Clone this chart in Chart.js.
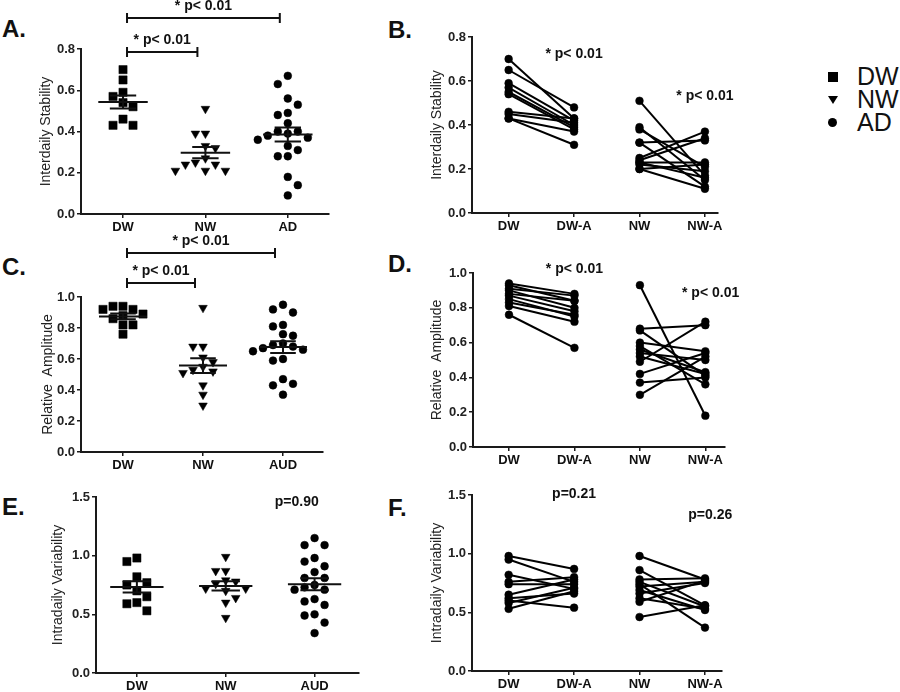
<!DOCTYPE html>
<html>
<head>
<meta charset="utf-8">
<script src="https://cdn.jsdelivr.net/npm/chart.js@4.4.1/dist/chart.umd.min.js"></script>
<style>
  body { margin: 0; background: #fff; }
  #fig { position: relative; width: 900px; height: 692px; overflow: hidden; font-family: "Liberation Sans", Arial, sans-serif; color: #111; }
  #fig canvas { position: absolute; }
  .letter { position: absolute; font-weight: bold; font-size: 24px; line-height: 1; }
  .leg { position: absolute; font-size: 25px; line-height: 1; }
  .sym { position: absolute; background: #000; }
</style>
</head>
<body>
<div id="fig">
  <div class="letter" style="left:2px;top:17px">A.</div>
  <div class="letter" style="left:388px;top:18px">B.</div>
  <div class="letter" style="left:2px;top:255px">C.</div>
  <div class="letter" style="left:388px;top:252px">D.</div>
  <div class="letter" style="left:2px;top:495px">E.</div>
  <div class="letter" style="left:388px;top:496px">F.</div>

  <div class="sym" style="left:828px;top:72px;width:10px;height:10px"></div>
  <div class="sym" style="left:828px;top:96px;width:0;height:0;background:none;border-left:5px solid transparent;border-right:5px solid transparent;border-top:8px solid #000"></div>
  <div class="sym" style="left:828px;top:118px;width:9px;height:9px;border-radius:50%"></div>
  <div class="leg" style="left:857px;top:64px">DW</div>
  <div class="leg" style="left:857px;top:87px">NW</div>
  <div class="leg" style="left:857px;top:110px">AD</div>
</div>

<script>
// categories
const groupCatsA = ['DW', 'NW', 'AD'];
const groupCatsC = ['DW', 'NW', 'AUD'];
const pairCats = ['DW', 'DW-A', 'NW', 'NW-A'];

// tick labels
const ticksIS = [0, 0.2, 0.4, 0.6, 0.8];
const ticksRA = [0, 0.2, 0.4, 0.6, 0.8, 1.0];
const ticksIV = [0, 0.5, 1.0, 1.5];

// A. interdaily stability by group
const isDW = [0.70, 0.65, 0.59, 0.57, 0.54, 0.52, 0.46, 0.43, 0.43];
const isNW = [0.51, 0.39, 0.39, 0.33, 0.32, 0.27, 0.25, 0.24, 0.24, 0.21, 0.21, 0.21];
const isAD = [0.67, 0.63, 0.56, 0.53, 0.49, 0.48, 0.44, 0.40, 0.40, 0.39, 0.38, 0.37, 0.36, 0.33, 0.31, 0.28, 0.28, 0.18, 0.14, 0.09];

// B. interdaily stability, paired
const isPairDW  = [0.70, 0.65, 0.59, 0.57, 0.55, 0.54, 0.46, 0.45, 0.43, 0.43];
const isPairDWA = [0.43, 0.48, 0.42, 0.40, 0.39, 0.38, 0.43, 0.41, 0.37, 0.31];
const isPairNW  = [0.51, 0.39, 0.38, 0.32, 0.32, 0.25, 0.24, 0.23, 0.23, 0.22, 0.20, 0.20];
const isPairNWA = [0.17, 0.15, 0.21, 0.33, 0.12, 0.37, 0.34, 0.23, 0.16, 0.19, 0.22, 0.11];

// C. relative amplitude by group
const raDW  = [0.94, 0.94, 0.92, 0.92, 0.89, 0.88, 0.86, 0.82, 0.82, 0.76];
const raNW  = [0.93, 0.68, 0.68, 0.61, 0.58, 0.55, 0.53, 0.52, 0.51, 0.43, 0.37, 0.30];
const raAUD = [0.95, 0.92, 0.90, 0.82, 0.81, 0.76, 0.75, 0.70, 0.69, 0.68, 0.67, 0.66, 0.65, 0.60, 0.59, 0.47, 0.44, 0.43, 0.37];

// D. relative amplitude, paired
const raPairDW  = [0.94, 0.93, 0.91, 0.90, 0.88, 0.87, 0.85, 0.83, 0.81, 0.76];
const raPairDWA = [0.88, 0.84, 0.87, 0.80, 0.84, 0.78, 0.75, 0.76, 0.72, 0.57];
const raPairNW  = [0.93, 0.68, 0.67, 0.60, 0.58, 0.56, 0.54, 0.52, 0.49, 0.42, 0.37, 0.30];
const raPairNWA = [0.18, 0.70, 0.41, 0.55, 0.36, 0.43, 0.50, 0.42, 0.72, 0.54, 0.40, 0.52];

// E. intradaily variability by group
const ivDW  = [0.98, 0.95, 0.82, 0.77, 0.75, 0.70, 0.65, 0.60, 0.59, 0.53];
const ivNW  = [0.99, 0.87, 0.87, 0.79, 0.78, 0.76, 0.72, 0.72, 0.70, 0.64, 0.60, 0.47];
const ivAUD = [1.15, 1.09, 1.09, 0.98, 0.95, 0.91, 0.86, 0.81, 0.81, 0.75, 0.73, 0.71, 0.71, 0.63, 0.61, 0.58, 0.50, 0.49, 0.43, 0.34];

// F. intradaily variability, paired
const ivPairDW  = [0.98, 0.95, 0.82, 0.76, 0.74, 0.65, 0.62, 0.60, 0.58, 0.53];
const ivPairDWA = [0.87, 0.76, 0.70, 0.80, 0.74, 0.78, 0.66, 0.54, 0.71, 0.68];
const ivPairNW  = [0.98, 0.86, 0.78, 0.76, 0.74, 0.72, 0.69, 0.66, 0.62, 0.59, 0.46];
const ivPairNWA = [0.78, 0.56, 0.79, 0.55, 0.37, 0.76, 0.52, 0.75, 0.53, 0.77, 0.56];

Chart.defaults.font.family = '"Liberation Sans", Arial, sans-serif';
Chart.defaults.color = '#111';

const fig = document.getElementById('fig');
const axisColor = '#1a1a1a';
const shapes = [
    { pointStyle: 'rect', radius: 5.8, rotation: 0 },
    { pointStyle: 'triangle', radius: 5, rotation: 180 },
    { pointStyle: 'circle', radius: 3.9, rotation: 0 }
];

function mean(a) { return a.reduce((s, v) => s + v, 0) / a.length; }
function sem(a) {
    const m = mean(a);
    const sd = Math.sqrt(a.reduce((s, v) => s + (v - m) * (v - m), 0) / (a.length - 1));
    return sd / Math.sqrt(a.length);
}

// simple beeswarm: column offsets so markers don't overlap
function swarm(values, thr) {
    const placed = [];
    const off = new Array(values.length);
    const order = values.map((v, i) => i).sort((a, b) => values[b] - values[a]);
    order.forEach(i => {
        const v = values[i];
        const free = k => !placed.some(p => p.k === k && Math.abs(p.v - v) < thr);
        for (let s = 0; s < 10; s++) {
            let k = null;
            if (s === 0) { if (free(0)) k = 0; }
            else {
                const nl = placed.filter(p => p.k === -s).length;
                const nr = placed.filter(p => p.k === s).length;
                const first = nr < nl ? s : -s;
                if (free(first)) k = first; else if (free(-first)) k = -first;
            }
            if (k !== null) { off[i] = k; placed.push({ k, v }); break; }
        }
    });
    return off;
}

function makeCanvas(p) {
    const c = document.createElement('canvas');
    const w = (p.r - p.l) + p.yW + p.padRight;
    const h = (p.b - p.t) + p.padTop + p.xH;
    c.width = w; c.height = h;
    c.style.left = (p.l - p.yW) + 'px';
    c.style.top = (p.t - p.padTop) + 'px';
    c.style.width = w + 'px'; c.style.height = h + 'px';
    fig.appendChild(c);
    return c;
}

function scalesFor(p, cats, yTicks, title) {
    const grid = { display: true, drawOnChartArea: false, drawTicks: true, tickLength: 4, color: axisColor, lineWidth: 1.5 };
    const border = { display: true, color: axisColor, width: 2 };
    return {
        x: {
            type: 'linear', min: p.xMin, max: p.xMax,
            afterBuildTicks: s => { s.ticks = cats.map((c, i) => ({ value: i })); },
            afterFit: s => { s.height = p.xH; },
            grid: grid, border: border,
            ticks: { callback: v => cats[v], font: { size: 13, weight: 'bold' }, color: '#111', padding: 2, maxRotation: 0, autoSkip: false }
        },
        y: {
            min: yTicks[0], max: yTicks[yTicks.length - 1],
            afterBuildTicks: s => { s.ticks = yTicks.map(v => ({ value: v })); },
            afterFit: s => { s.width = p.yW; },
            grid: grid, border: border,
            ticks: { callback: v => v.toFixed(1), font: { size: 13, weight: 'bold' }, color: '#222', padding: 2 },
            title: { display: true, text: title, font: { size: 14 }, color: '#222', padding: 0 }
        }
    };
}

// brackets, p-value labels and mean +/- SEM bars
function annotPlugin(cfg) {
    return {
        id: 'annot',
        afterDatasetsDraw(chart) {
            const { ctx, chartArea, scales: { x, y } } = chart;
            ctx.save();
            ctx.strokeStyle = '#111';
            ctx.fillStyle = '#111';
            ctx.lineWidth = 2;
            (cfg.groups || []).forEach((g, i) => {
                const m = mean(g), e = sem(g);
                const cx = x.getPixelForValue(i);
                const hw = x.getPixelForValue(i + 0.3) - cx;
                const cw = x.getPixelForValue(i + 0.16) - cx;
                const ym = y.getPixelForValue(m), yt = y.getPixelForValue(m + e), yb = y.getPixelForValue(m - e);
                ctx.beginPath();
                ctx.moveTo(cx - hw, ym); ctx.lineTo(cx + hw, ym);
                ctx.moveTo(cx - cw, yt); ctx.lineTo(cx + cw, yt);
                ctx.moveTo(cx - cw, yb); ctx.lineTo(cx + cw, yb);
                ctx.moveTo(cx, yt); ctx.lineTo(cx, yb);
                ctx.stroke();
            });
            ctx.font = 'bold 14px "Liberation Sans", Arial, sans-serif';
            ctx.textAlign = 'center';
            ctx.textBaseline = 'middle';
            (cfg.brackets || []).forEach(b => {
                const x0 = x.getPixelForValue(b.from) + 4, x1 = x.getPixelForValue(b.to) - 8;
                const by = chartArea.top - b.above;
                ctx.beginPath();
                ctx.moveTo(x0, by); ctx.lineTo(x1, by);
                ctx.moveTo(x0, by - 5); ctx.lineTo(x0, by + 5);
                ctx.moveTo(x1, by - 5); ctx.lineTo(x1, by + 5);
                ctx.stroke();
                ctx.fillText(b.text, (x0 + x1) / 2, by - 12);
            });
            (cfg.labels || []).forEach(t => {
                ctx.fillText(t.text, x.getPixelForValue(t.x), y.getPixelForValue(t.y));
            });
            ctx.restore();
        }
    };
}

function groupChart(p, cats, groups, yTicks, title, annot) {
    const range = yTicks[yTicks.length - 1] - yTicks[0];
    const thr = 8.6 * range / (p.b - p.t);
    const step = 10 * (p.xMax - p.xMin) / (p.r - p.l);
    const datasets = groups.map((g, i) => {
        const off = swarm(g, thr);
        return {
            data: g.map((v, k) => ({ x: i + off[k] * step, y: v })),
            pointStyle: shapes[i].pointStyle,
            pointRadius: shapes[i].radius,
            pointRotation: shapes[i].rotation,
            pointBackgroundColor: '#000',
            pointBorderColor: '#000',
            pointBorderWidth: 0.5
        };
    });
    new Chart(makeCanvas(p), {
        type: 'scatter',
        data: { datasets },
        options: {
            responsive: false, animation: false,
            layout: { padding: { top: p.padTop, right: p.padRight, left: 0, bottom: 0 } },
            plugins: { legend: { display: false }, tooltip: { enabled: false } },
            scales: scalesFor(p, cats, yTicks, title)
        },
        plugins: [annotPlugin(Object.assign({ groups }, annot))]
    });
}

function pairChart(p, pairs, yTicks, title, annot) {
    const datasets = [];
    pairs.forEach((pr, j) => {
        pr[0].forEach((v, k) => {
            datasets.push({
                data: [{ x: 2 * j, y: v }, { x: 2 * j + 1, y: pr[1][k] }],
                showLine: true,
                borderColor: '#000', borderWidth: 2,
                pointRadius: 3.9, pointBackgroundColor: '#000', pointBorderColor: '#000', pointBorderWidth: 0.5
            });
        });
    });
    new Chart(makeCanvas(p), {
        type: 'scatter',
        data: { datasets },
        options: {
            responsive: false, animation: false,
            layout: { padding: { top: p.padTop, right: p.padRight, left: 0, bottom: 0 } },
            plugins: { legend: { display: false }, tooltip: { enabled: false } },
            scales: scalesFor(p, pairCats, yTicks, title)
        },
        plugins: [annotPlugin(annot)]
    });
}

groupChart({ l: 81, t: 49, r: 329, b: 214, xMin: -0.51, xMax: 2.5, yW: 43, xH: 24, padTop: 49, padRight: 14 },
    groupCatsA, [isDW, isNW, isAD], ticksIS, 'Interdaily Stability',
    { brackets: [{ from: 0, to: 2, above: 31, text: '* p< 0.01' }, { from: 0, to: 1, above: -3, text: '* p< 0.01' }] });

pairChart({ l: 472, t: 37, r: 718, b: 213, xMin: -0.56, xMax: 3.2, yW: 43, xH: 24, padTop: 14, padRight: 24 },
    [[isPairDW, isPairDWA], [isPairNW, isPairNWA]], ticksIS, 'Interdaily Stability',
    { labels: [{ x: 1, y: 0.72, text: '* p< 0.01' }, { x: 3, y: 0.53, text: '* p< 0.01' }] });

groupChart({ l: 81, t: 297, r: 323, b: 452, xMin: -0.525, xMax: 2.5, yW: 41, xH: 24, padTop: 70, padRight: 14 },
    groupCatsC, [raDW, raNW, raAUD], ticksRA, 'Relative  Amplitude',
    { brackets: [{ from: 0, to: 2, above: 44, text: '* p< 0.01' }, { from: 0, to: 1, above: 14, text: '* p< 0.01' }] });

pairChart({ l: 473, t: 273, r: 725, b: 447, xMin: -0.55, xMax: 3.3, yW: 44, xH: 24, padTop: 18, padRight: 24 },
    [[raPairDW, raPairDWA], [raPairNW, raPairNWA]], ticksRA, 'Relative  Amplitude',
    { labels: [{ x: 1, y: 1.02, text: '* p< 0.01' }, { x: 3.08, y: 0.885, text: '* p< 0.01' }] });

groupChart({ l: 96, t: 497, r: 359, b: 673, xMin: -0.46, xMax: 2.5, yW: 46, xH: 19, padTop: 14, padRight: 14 },
    groupCatsC, [ivDW, ivNW, ivAUD], ticksIV, 'Intradaily Variability',
    { labels: [{ x: 1.8, y: 1.46, text: 'p=0.90' }] });

pairChart({ l: 472, t: 495, r: 722, b: 671, xMin: -0.56, xMax: 3.26, yW: 43, xH: 21, padTop: 14, padRight: 24 },
    [[ivPairDW, ivPairDWA], [ivPairNW, ivPairNWA]], ticksIV, 'Intradaily Variability',
    { labels: [{ x: 1, y: 1.51, text: 'p=0.21' }, { x: 3.08, y: 1.33, text: 'p=0.26' }] });
</script>
</body>
</html>
